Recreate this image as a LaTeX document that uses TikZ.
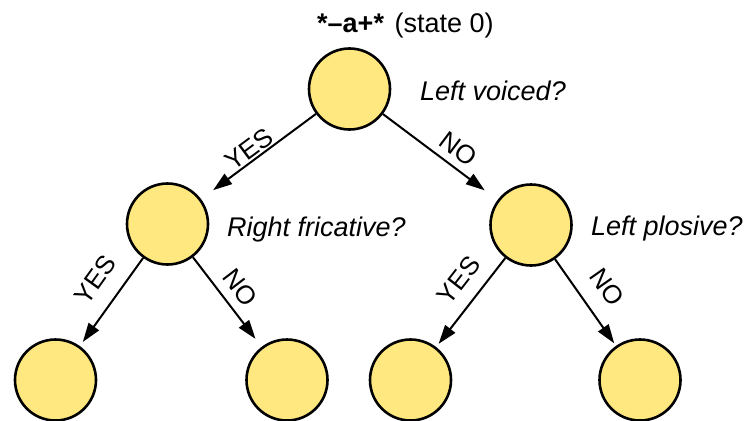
\documentclass[tikz,border=0pt]{standalone}
\usepackage{fontspec}
\setmainfont{Liberation Sans}
\usetikzlibrary{arrows.meta}
\definecolor{statefill}{HTML}{FFE87F}
\begin{document}
\begin{tikzpicture}[x=1pt,y=-1pt,
  state/.style={circle,draw=black,line width=2.6pt,fill=statefill,
    minimum size=81pt,inner sep=0pt},
  branch/.style={draw=black,line width=2pt,-{Triangle[length=19pt,width=12.5pt]}},
  edgelbl/.style={font=\fontsize{26}{30}\selectfont,inner sep=0pt,sloped},
  question/.style={font=\fontsize{27}{32}\selectfont\itshape,inner sep=0pt,anchor=base west},
  title/.style={font=\fontsize{27}{32}\selectfont,inner sep=0pt,anchor=base west}]
  \path[use as bounding box] (0,0) rectangle (746,420);

  % tree of states
  \node[state] (root) at (349.5,89) {};
  \node[state] (l)    at (167.5,224) {};
  \node[state] (r)    at (531,225) {};
  \node[state] (ll)   at (55.5,380) {};
  \node[state] (lr)   at (287,380) {};
  \node[state] (rl)   at (410.5,380) {};
  \node[state] (rr)   at (640,380) {};

  % captions
  \node[title] (ttl) at (317,33) {\textbf{*–a+*}\hspace{3pt} (state 0)};
  \node[question] (q0) at (420,100) {Left voiced?};
  \node[question] (q1) at (227,236) {Right fricative?};
  \node[question] (q2) at (591,235) {Left plosive?};

  % branches with their answers
  \draw[branch,shorten >=15pt] (root) -- node[edgelbl,pos=0.52,above=1pt] {YES} (l);
  \draw[branch,shorten >=16pt] (root) -- node[edgelbl,pos=0.57,above=7pt] {NO} (r);
  \draw[branch,shorten >=5pt]  (l) -- node[edgelbl,pos=0.42,above=16pt] {YES} (ll);
  \draw[branch,shorten >=10pt] (l) -- node[edgelbl,pos=0.47,above=9pt] {NO} (lr);
  \draw[branch,shorten >=4pt]  (r) -- node[edgelbl,pos=0.41,above=13pt] {YES} (rl);
  \draw[branch,shorten >=3pt]  (r) -- node[edgelbl,pos=0.5,above=16pt] {NO} (rr);
\end{tikzpicture}
\end{document}
